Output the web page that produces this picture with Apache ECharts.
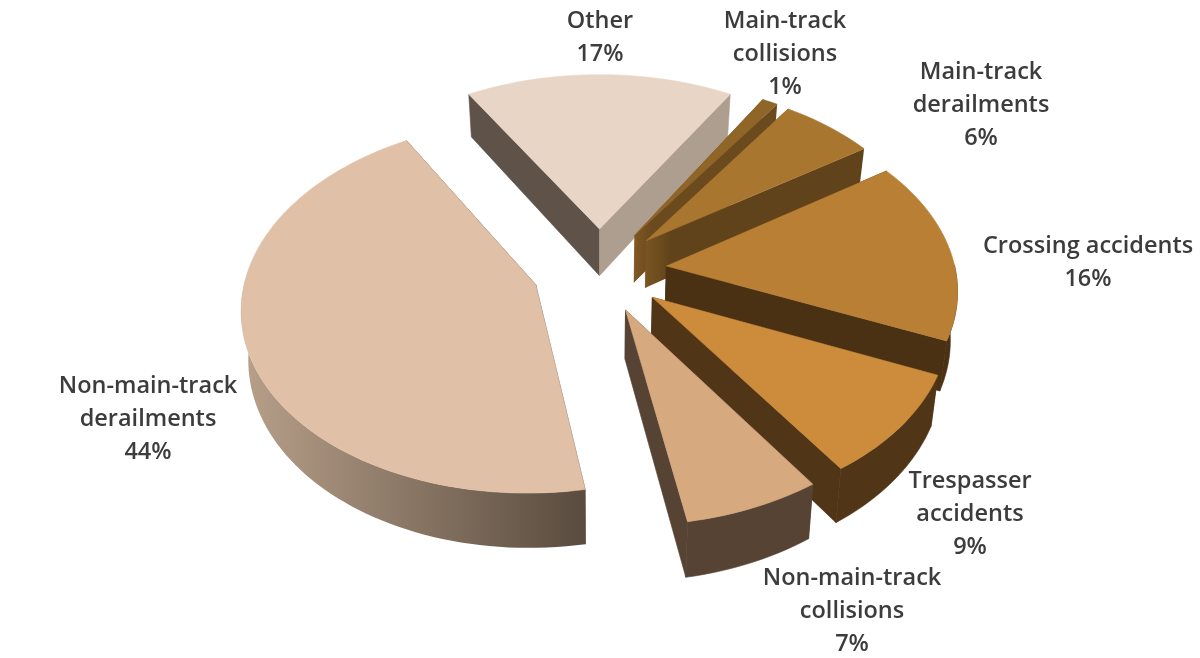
<!DOCTYPE html>
<html>
<head>
<meta charset="utf-8">
<style>html,body{margin:0;padding:0;background:#fff}#c{width:1200px;height:658px}</style>
<script src="https://cdn.jsdelivr.net/npm/echarts@6/dist/echarts.min.js"></script>
</head>
<body>
<div id="c"></div>
<script>
// Data, clockwise starting with the slice centred on twelve o'clock
const categories = ['Other', 'Main-track\ncollisions', 'Main-track\nderailments', 'Crossing accidents', 'Trespasser\naccidents', 'Non-main-track\ncollisions', 'Non-main-track\nderailments'];
const shares = [17, 1, 6, 16, 9, 6.7, 44.3];

// Styles
const topColors = ['#e8d5c5', '#8f6528', '#a97630', '#b98035', '#cc8c3b', '#d6a97f', '#e0c0a6'];
const startWallColors = ['#5e5249', '#7f5824', '#7a5522', '#4a3113', '#503516', '#564334', '#594b3e'];
const endWallColors = ['#ae9e8f', '#6b4a1e', '#60431b', '#4a3113', '#503516', '#564334', '#594b3e'];
const endWallApexColors = ['#ae9e8f', '#7f5824', '#7a5522', '#4a3113', '#503516', '#564334', '#594b3e'];
const rimColorsFrom = ['#ae9e8f', '#6b4a1e', '#60431b', '#4a3113', '#503516', '#564334', '#b8a08a'];
const rimColorsTo = ['#ae9e8f', '#6b4a1e', '#60431b', '#4a3113', '#503516', '#564334', '#594b3e'];
const labelCentres = [[600, 38], [785, 54], [981, 105], [1088, 263], [970, 514], [852, 611], [148, 419]];

// Projection of the tilted pie
const view = { cx: 599.5, cy: 270, rx: 289, ry: 180.8, persp: 0.1146, depth: 48, explode: 0.233, lowShrink: 0.98, rimLimit: 0.02 };
const total = shares.reduce((a, b) => a + b, 0);
const firstAngle = -shares[0] / total * Math.PI;

function project(u, v, low) {
  const s = 1 / (1 + view.persp * v);
  const k = low ? view.lowShrink : 1;
  return [view.cx + view.rx * u * s * k, view.cy - view.ry * v * s + (low ? view.depth * s : 0)];
}
function grad(x, y, x2, y2, stops) {
  return { type: 'linear', x, y, x2, y2, colorStops: stops.map(p => ({ offset: p[0], color: p[1] })) };
}
function poly(points, fill) {
  return { type: 'polygon', shape: { points }, style: { fill, stroke: typeof fill === 'string' ? fill : null, lineWidth: 0.6 } };
}

function renderItem(params, api) {
  const i = params.dataIndex;
  const value = api.value(0);
  let before = 0;
  for (let k = 0; k < i; k++) before += shares[k];
  const a0 = firstAngle + before / total * 2 * Math.PI;
  const a1 = a0 + value / total * 2 * Math.PI;
  const mid = (a0 + a1) / 2;
  const ou = view.explode * Math.sin(mid), ov = view.explode * Math.cos(mid);
  const rimTop = [], rimLow = [], seenTop = [], seenLow = [];
  const steps = Math.max(4, Math.ceil((a1 - a0) / 0.03));
  for (let n = 0; n <= steps; n++) {
    const a = a0 + (a1 - a0) * n / steps;
    const u = ou + Math.sin(a), v = ov + Math.cos(a);
    const t = project(u, v, false), l = project(u, v, true);
    rimTop.push(t);
    rimLow.push(l);
    if (Math.cos(a) < view.rimLimit) { seenTop.push(t); seenLow.push(l); }
  }
  const apexTop = project(ou, ov, false), apexLow = project(ou, ov, true);
  const startWall = [apexTop, rimTop[0], rimLow[0], apexLow];
  const endWall = [apexTop, rimTop[steps], rimLow[steps], apexLow];
  const top = [apexTop].concat(rimTop);
  const endFill = endWallApexColors[i] === endWallColors[i] ? endWallColors[i]
    : grad(0, 0, 1, 0, [[0, endWallApexColors[i]], [0.12, endWallColors[i]], [1, endWallColors[i]]]);
  const rimFill = rimColorsFrom[i] === rimColorsTo[i] ? rimColorsTo[i]
    : grad(0, 0, 1, 0, [[0, rimColorsFrom[i]], [1, rimColorsTo[i]]]);
  const children = [poly(startWall, startWallColors[i]), poly(endWall, endFill)];
  if (seenTop.length > 1) children.push(poly(seenTop.concat(seenLow.reverse()), rimFill));
  children.push(poly(top, topColors[i]));
  children.push({
    type: 'text',
    style: {
      x: labelCentres[i][0], y: labelCentres[i][1],
      text: categories[i] + '\n' + Math.round(value) + '%',
      align: 'center', verticalAlign: 'middle',
      font: '600 23.5px "Open Sans"', lineHeight: 33, fill: '#3c3c3c'
    }
  });
  return { type: 'group', children };
}

const chart = echarts.init(document.getElementById('c'), null, { renderer: 'canvas' });
chart.setOption({
  animation: false,
  backgroundColor: '#ffffff',
  series: [{
    type: 'custom',
    coordinateSystem: 'none',
    renderItem,
    data: shares.map(v => [v]),
    silent: true
  }]
});
</script>
</body>
</html>
